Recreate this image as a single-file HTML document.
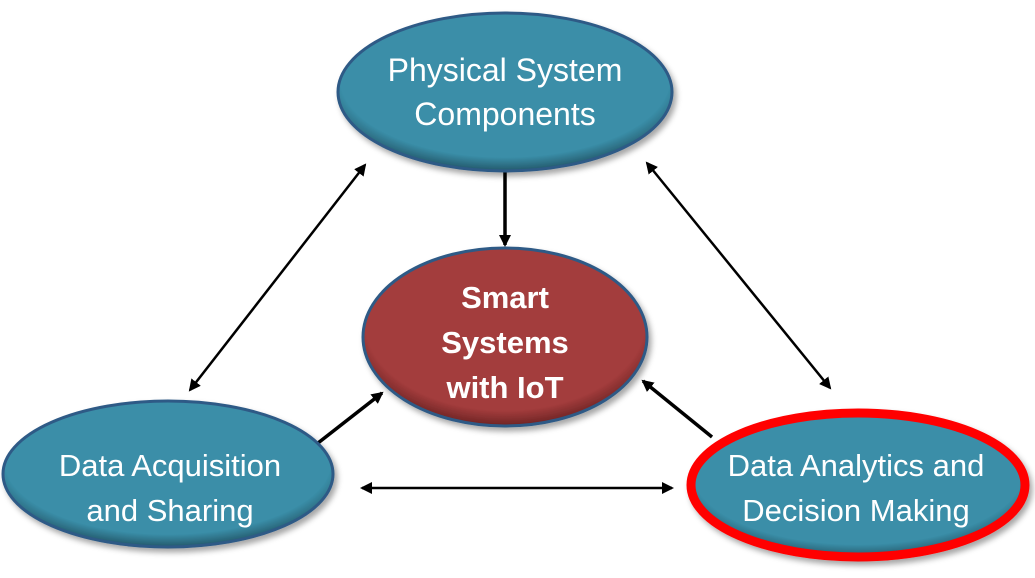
<!DOCTYPE html>
<html><head><style>
html,body{margin:0;padding:0;background:#fff;width:1035px;height:578px;overflow:hidden}
svg{display:block}
text{font-family:"Liberation Sans",sans-serif;fill:#fff;text-anchor:middle}
</style></head><body>
<svg width="1035" height="578" viewBox="0 0 1035 578">
<defs>
<radialGradient id="tg" cx="50%" cy="42%" r="58%">
<stop offset="0.85" stop-color="#3a8ea8"/><stop offset="1" stop-color="#24596b"/></radialGradient>
<radialGradient id="rg" cx="50%" cy="42%" r="58%">
<stop offset="0.85" stop-color="#a33c3c"/><stop offset="1" stop-color="#6e2424"/></radialGradient>
<filter id="sh" x="-20%" y="-20%" width="140%" height="150%"><feDropShadow dx="3" dy="4" stdDeviation="3" flood-color="#000" flood-opacity="0.35"/></filter>
<marker id="ah" markerWidth="12" markerHeight="12" refX="10" refY="6" orient="auto-start-reverse" markerUnits="userSpaceOnUse">
<path d="M0,0 L12,6 L0,12 z" fill="#000"/></marker>
</defs>
<g stroke="#000" stroke-width="2.5" fill="none">
<line x1="190" y1="390" x2="365" y2="165" marker-start="url(#ah)" marker-end="url(#ah)"/>
<line x1="647" y1="163" x2="830" y2="388" marker-start="url(#ah)" marker-end="url(#ah)"/>
<line x1="362" y1="488" x2="672" y2="488" marker-start="url(#ah)" marker-end="url(#ah)"/>
<line x1="505" y1="172" x2="505" y2="245" stroke-width="3.5" marker-end="url(#ah)"/>
<line x1="318" y1="443" x2="382" y2="393" stroke-width="3.5" marker-end="url(#ah)"/>
<line x1="712" y1="437" x2="643" y2="381" stroke-width="3.5" marker-end="url(#ah)"/>
</g>
<g filter="url(#sh)">
<ellipse cx="505" cy="92" rx="167" ry="79" fill="url(#tg)" stroke="#2e5a86" stroke-width="3"/>
<ellipse cx="505" cy="337" rx="142" ry="89" fill="url(#rg)" stroke="#2e5a86" stroke-width="3"/>
<ellipse cx="168" cy="474" rx="165" ry="73" fill="url(#tg)" stroke="#2e5a86" stroke-width="3"/>
<ellipse cx="858" cy="485" rx="167" ry="72" fill="url(#tg)" stroke="#ff0000" stroke-width="9"/>
</g>
<text x="505" y="81" font-size="32">Physical System</text>
<text x="505" y="125" font-size="32">Components</text>
<text x="505" y="308" font-size="31" font-weight="bold">Smart</text>
<text x="505" y="353" font-size="31" font-weight="bold">Systems</text>
<text x="505" y="398" font-size="31" font-weight="bold">with IoT</text>
<text x="170" y="476" font-size="31">Data Acquisition</text>
<text x="170" y="521" font-size="31">and Sharing</text>
<text x="856" y="476" font-size="31">Data Analytics and</text>
<text x="856" y="521" font-size="31">Decision Making</text>
</svg>
</body></html>
